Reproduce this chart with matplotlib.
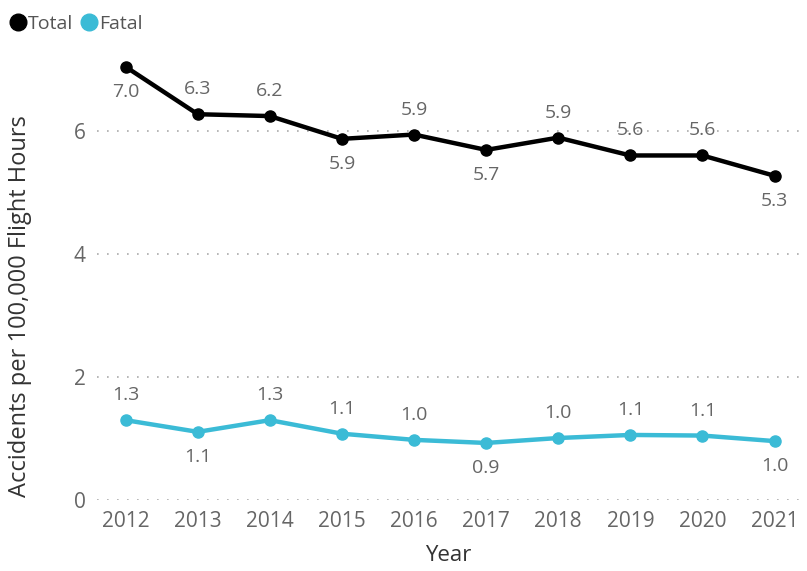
import matplotlib
matplotlib.use('Agg')
import matplotlib.pyplot as plt

plt.rcParams['font.family'] = ['Open Sans', 'DejaVu Sans']

years = ['2012', '2013', '2014', '2015', '2016', '2017', '2018', '2019', '2020', '2021']
total = [7.04, 6.27, 6.24, 5.87, 5.94, 5.69, 5.89, 5.60, 5.60, 5.27]
fatal = [1.30, 1.11, 1.30, 1.08, 0.98, 0.93, 1.01, 1.06, 1.05, 0.96]
# label placement: 1 = above point, -1 = below point
total_pos = [-1, 1, 1, -1, 1, -1, 1, 1, 1, -1]
fatal_pos = [1, -1, 1, 1, 1, -1, 1, 1, 1, -1]

fig = plt.figure(figsize=(8.07, 5.71), dpi=100)
ax = fig.add_axes([0.12, 0.124, 0.871, 0.787])

x = range(len(years))
ax.plot(x, total, color='black', lw=3.2, marker='o', ms=8, label='Total', zorder=3)
ax.plot(x, fatal, color='#3bbbd6', lw=3.2, marker='o', ms=8, label='Fatal', zorder=3)

for xi, v, p in zip(x, total, total_pos):
    ax.annotate(f'{v:.1f}', (xi, v), xytext=(0, 18 * p), textcoords='offset points',
                ha='center', va='center', fontsize=14, color='#666666')
for xi, v, p in zip(x, fatal, fatal_pos):
    ax.annotate(f'{v:.1f}', (xi, v), xytext=(0, 18 * p), textcoords='offset points',
                ha='center', va='center', fontsize=14, color='#666666')

ax.set_xlim(-0.4, 9.35)
ax.set_ylim(0, 7.3)
ax.set_xticks(list(x))
ax.set_xticklabels(years)
ax.set_yticks([0, 2, 4, 6])
ax.tick_params(length=0, labelsize=15, colors='#666666', pad=8)
ax.grid(axis='y', color='#aaaaaa', ls=(0, (1, 5)), lw=1.2)
for s in ax.spines.values():
    s.set_visible(False)

ax.set_xlabel('Year', fontsize=16, color='#333333', labelpad=9)
ax.set_ylabel('Accidents per 100,000 Flight Hours', fontsize=17, color='#333333',
              labelpad=30, y=0.432)

fig.legend(loc='upper left', bbox_to_anchor=(-0.006, 1.005), ncol=2, frameon=False,
           handlelength=0.6, handletextpad=0.2, columnspacing=0.5, fontsize=14,
           labelcolor='#555555', markerscale=1.5)
leg = fig.legends[0]
for h in leg.legend_handles:
    h.set_linestyle('none')

fig.savefig('out.png', dpi=100)
